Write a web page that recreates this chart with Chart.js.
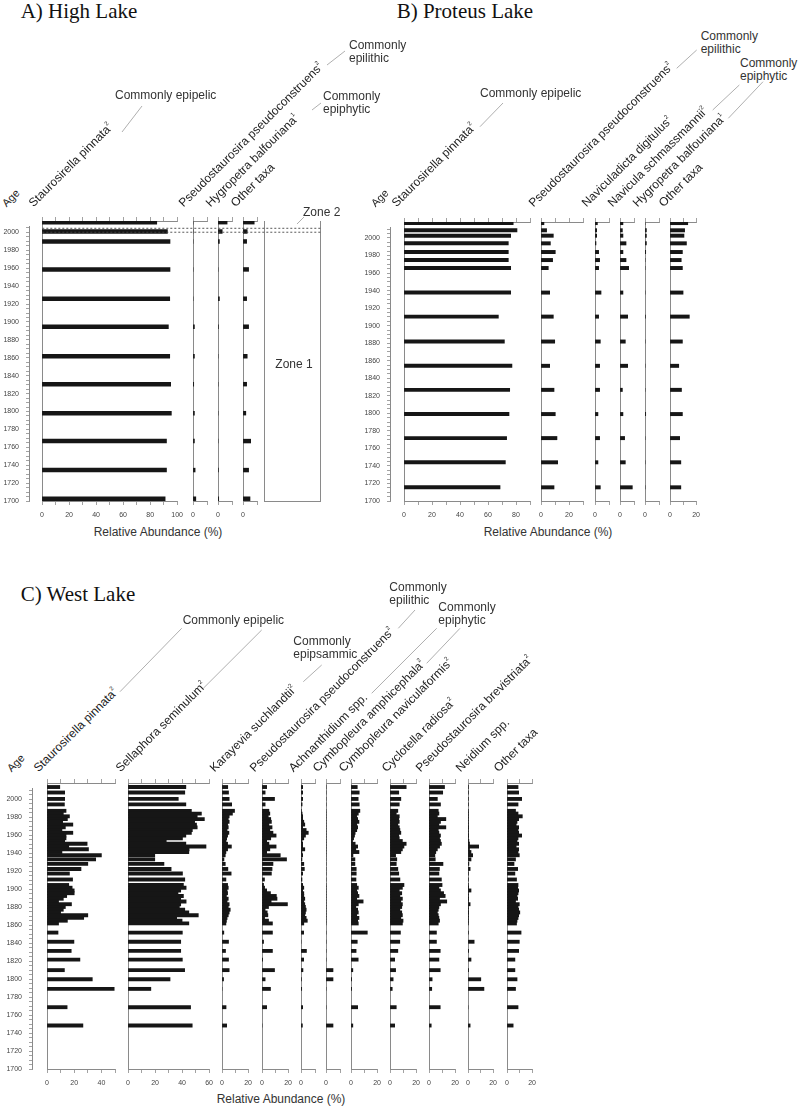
<!DOCTYPE html>
<html>
<head>
<meta charset="utf-8">
<title>Diatom stratigraphy - High, Proteus and West Lake</title>
<script src="https://cdn.jsdelivr.net/npm/chart.js@4.4.1/dist/chart.umd.min.js"></script>
<style>
  html, body { margin: 0; padding: 0; background: #fff; }
  body { position: relative; width: 800px; height: 1109px; overflow: hidden;
         font-family: "Liberation Sans", Arial, sans-serif; color: #222; }
  canvas { position: absolute; }
  .title { position: absolute; font-family: "Liberation Serif", "Times New Roman", serif;
           font-size: 21px; line-height: 21px; white-space: nowrap; color: #111; }
  .txt { position: absolute; font-size: 12px; line-height: 13px; white-space: nowrap; color: #333; }
  .mid { transform: translateX(-50%); }
  .rot { position: absolute; font-size: 12px; line-height: 12px; height: 12px; white-space: nowrap;
         color: #222; transform-origin: 0 100%; transform: rotate(-45deg); }
  .rot sup { font-size: 6px; vertical-align: 6px; line-height: 0; }
  svg { position: absolute; left: 0; top: 0; }
</style>
</head>
<body>
<script>
// ---------- data ----------
const AGE_MIN = 1700;

// A) High Lake
const agesA = [2005.7, 1995.5, 1984.6, 1953.9, 1921.8, 1891.1, 1858.7, 1828.1, 1796.3, 1765.7, 1733.9, 1702.5];
const aStaurosirella = [84.9, 92.8, 94.7, 94.7, 94.5, 93.5, 94.5, 95.2, 95.7, 92.1, 92.1, 91.1];
const aPseudoconstruens = [0, 0, 0, 0, 0, 1, 1, 0.5, 1, 1, 1.5, 2];
const aHygropetra = [6.5, 3, 1, 0, 1, 0.3, 0, 0, 0, 0, 0.3, 0.5];
const aOther = [8, 3, 2.6, 4, 2.6, 4, 3, 2.6, 2, 5.5, 4, 5];
const zone2Ages = [2000.6, 2005.0];

// B) Proteus Lake
const agesB = [2011.1, 2003, 1997, 1988.4, 1978.7, 1969.7, 1960.8, 1933.3, 1906.4, 1878.5, 1851.3, 1824.4, 1797.3, 1770.4, 1743.3, 1715.3];
const bStaurosirella = [78, 80.7, 76.2, 74.5, 74.5, 74.5, 76.2, 76.2, 67.4, 71.7, 77.1, 75.5, 75, 73.3, 72.4, 68.6];
const bPseudoconstruens = [2.1, 4, 8.8, 6.7, 10.2, 8.3, 5.2, 6.2, 8.8, 9.8, 6.2, 9.3, 10.2, 11.4, 11.9, 9.3];
const bNaviculadicta = [1.7, 1.2, 1.2, 0.7, 2.6, 3.3, 2.6, 4.3, 2.6, 3.8, 3.3, 3.3, 2.1, 3.3, 2.1, 3.8];
const bNavicula = [2.1, 1.7, 2.1, 4.3, 2.1, 4.3, 6.2, 2.1, 5.5, 3.8, 5.5, 1.7, 2.1, 3.3, 3.8, 8.8];
const bHygropetra = [0, 1, 1, 1, 0.5, 0, 0, 0, 0.3, 0, 0, 0, 0.5, 0, 0, 0];
const bOther = [13.6, 11.2, 10.7, 12.6, 9.5, 8.6, 9.5, 10, 14.8, 9.5, 6.7, 8.8, 9.5, 7.4, 8.3, 8.3];

// C) West Lake
const agesC = [2008, 2002, 1995, 1989,
  1982, 1979, 1976, 1973, 1970, 1967, 1964, 1961, 1958, 1955, 1952, 1949, 1946, 1943, 1940, 1937,
  1933.5, 1929, 1924, 1918.5, 1913.5, 1907,
  1901, 1898, 1895, 1892, 1889, 1886, 1883, 1880, 1877, 1874, 1871, 1868, 1865, 1862, 1859,
  1849, 1839, 1829, 1819.5, 1808, 1798, 1787.5, 1767.5, 1747.5];
const cStaurosirella = [9.4, 13, 13, 12.8,
  14, 12, 16.5, 15, 11.5, 19, 13.5, 11, 19, 14, 14, 13, 29.5, 16, 30.5, 11,
  40, 35.8, 30, 25, 16.5, 18.8,
  16, 18.5, 20, 20, 14.5, 12, 8.5, 18, 13.5, 12, 10, 30, 27, 15, 8.5,
  8.1, 19.8, 17.8, 24.2, 12.8, 33.3, 49.4, 14.8, 26.4];
const cSellaphora = [42.8, 42, 37.2, 42.8,
  46.9, 54.3, 51.2, 56.5, 49.3, 50.7, 51.2, 47.6, 46.9, 42.8, 40.3, 28.3, 42.8, 57.7, 45.2, 45,
  19.8, 19.8, 26.6, 31.9, 40.3, 42,
  41, 43, 39, 37, 41, 39, 43, 39, 38, 42, 45, 52, 36, 40, 45,
  40.2, 39, 39, 40.2, 41.9, 31.1, 16.9, 46.3, 47.5];
const cKarayevia = [4.4, 5, 5.5, 7.4,
  9.6, 8, 5.5, 4.8, 5.5, 4.3, 4.8, 3.9, 5.3, 4.3, 3.6, 3.1, 4.3, 7.2, 4.3, 3,
  2.5, 1.5, 2.5, 4.5, 7, 3,
  4.3, 4.8, 3.9, 4.3, 3.4, 4.8, 3.9, 5.5, 4.8, 6.3, 5.5, 4.8, 3.9, 3.4, 3,
  1.4, 5, 2.7, 5, 5.5, 1.2, 0, 3.1, 3.6];
const cPseudoconstruens = [3.6, 2.4, 9.6, 2.4,
  5.3, 6, 4.8, 6.7, 7.2, 5.3, 7.7, 6, 8.4, 10.8, 6.7, 3.6, 5.3, 10.8, 6, 3.6,
  14, 18.8, 8.4, 7.7, 7.2, 1.9,
  1.2, 2, 3.6, 6.5, 11, 11.5, 7, 19.5, 5, 2.4, 4, 4.5, 2, 5, 8,
  8, 1.2, 8, 0.5, 9.6, 2.4, 6.5, 3.6, 0];
const cAchnanthidium = [1.2, 1.2, 1.2, 0.8,
  0.3, 0.8, 1.2, 1.2, 2, 2.7, 1.2, 3.7, 5.2, 3.2, 2, 0.8, 1.2, 1.2, 2.7, 0.7,
  1.2, 0.7, 2, 2.4, 1.2, 0.7,
  1.2, 2, 1.2, 2, 2, 2.7, 2, 2.7, 3.2, 3.7, 3.2, 2.7, 3.7, 4.5, 2,
  1.9, 0, 3.9, 1.9, 1.4, 0.3, 0.5, 1.2, 1];
const cAmphicephala = [0, 0, 0, 0,
  0, 0, 0, 0, 0, 0, 0, 0, 0, 0, 0, 0, 0, 0, 0, 0,
  0, 0, 0, 0, 0, 0,
  0, 0, 0, 0, 0, 0, 0, 0, 0, 0, 0, 0, 0, 0, 0,
  0, 0, 0, 0, 5, 5, 0, 0, 5];
const cNaviculaformis = [4.8, 6.3, 5.5, 6.3,
  6.8, 5.6, 4.4, 5.1, 6.1, 4.4, 5.1, 4.4, 3.2, 2.7, 2, 1.2, 3.2, 5.1, 3.7, 6.1,
  1.5, 3, 3, 4, 4, 3.8,
  4.4, 5.6, 4.4, 5.1, 6.1, 4.4, 9.3, 5.6, 3.7, 5.1, 5.6, 4.4, 6.1, 5.1, 5.6,
  12.5, 4.8, 3.9, 5.5, 1.4, 0.5, 0.5, 5.1, 1.4];
const cCyclotella = [12.4, 6.7, 8.3, 7.1,
  6, 4.8, 7.1, 6.7, 7.1, 6, 7.1, 7.6, 8.3, 6.7, 7.1, 9.5, 12.4, 10.7, 9.5, 8.3,
  4.3, 5.2, 4.8, 6, 6.7, 7.6,
  10.7, 9.5, 7.1, 9, 7.6, 9.5, 8.3, 9.5, 9, 7.6, 9, 9.5, 8.3, 10, 9.5,
  8, 7.5, 6, 3.6, 4.3, 2.4, 1.7, 4.8, 3.6];
const cBrevistriata = [11.9, 10.5, 6.4, 8.8,
  7.1, 7.6, 6.4, 12.9, 8.8, 7.6, 12.9, 7.1, 7.6, 8.8, 8.1, 8.8, 9.5, 8.1, 6.4, 5.2,
  4.5, 4.8, 10.7, 8, 7.6, 9.5,
  10, 7.6, 8.8, 11.2, 12.4, 8.1, 13.6, 8.8, 7.6, 7.1, 6.4, 7.1, 7.6, 8.1, 7.1,
  5.7, 5.7, 8.6, 7.6, 8.6, 2.4, 2.1, 8.6, 1.7];
const cNeidium = [0.3, 0.3, 0.3, 0.3,
  0.3, 0.3, 0.3, 0.3, 0.3, 0.3, 0.5, 0.3, 0.3, 0.5, 0.3, 0.7, 1.2, 8.5, 1.2, 2.4,
  3.7, 2.4, 0.7, 1.7, 0.3, 0.3,
  0.3, 0.5, 2.4, 0.3, 0.3, 0.5, 0.3, 1.7, 0.3, 0.3, 0.5, 0.3, 0.3, 0.3, 0.3,
  0.3, 4.9, 0.5, 2.4, 0.5, 10.2, 12.7, 0, 1.7];
const cOther = [8.8, 9.3, 11.7, 8.8,
  6.8, 8.8, 12.2, 9.3, 8, 7.3, 9.3, 8.8, 9.3, 11.7, 8.8, 8, 9.3, 7.3, 9.3, 8.8,
  9.8, 6.8, 5.6, 8.5, 6.3, 7.6,
  8.8, 8.5, 9.3, 8.8, 8, 8.5, 6.8, 9.8, 8.8, 9.3, 10.2, 9.3, 8.8, 8, 7.6,
  11.2, 9.8, 9.3, 6.3, 6.3, 8, 6.8, 8.8, 4.9];

// ---------- layout (page px) ----------
const GREY = '#8a8a8a';
const INK = '#161616';
const TICK_FONT = { family: 'Liberation Sans', size: 7 };
const PAD_X = 8, PAD_T = 2, TOP_AX = 4, BOT_AX = 20, PAD_B = 2;

Chart.defaults.font.family = 'Liberation Sans';

const panelA = { ages: agesA, bottom: 501.3, pxPerYr: 0.9136, yMax: 2007, ageX: 29.3, bar: 3.8 };
const panelB = { ages: agesB, bottom: 501, pxPerYr: 0.8946, yMax: 2012.3, ageX: 390, bar: 3.3 };
const panelC = { ages: agesC, bottom: 1068.7, pxPerYr: 0.9154, yMax: 2012.4, ageX: 32.3, bar: 3.2 };

const colsA = [
  { values: aStaurosirella, max: 100, zero: 42.3, width: 139.4 },
  { values: aPseudoconstruens, max: 10, zero: 192.7, width: 13.9 },
  { values: aHygropetra, max: 10, zero: 217.7, width: 13.9 },
  { values: aOther, max: 10, zero: 242.7, width: 13.9 },
];
const colsB = [
  { values: bStaurosirella, max: 90, zero: 404, width: 125.6 },
  { values: bPseudoconstruens, max: 30, zero: 541.3, width: 41.9 },
  { values: bNaviculadicta, max: 10, zero: 595, width: 14 },
  { values: bNavicula, max: 10, zero: 620, width: 14 },
  { values: bHygropetra, max: 10, zero: 645.3, width: 14 },
  { values: bOther, max: 20, zero: 670.3, width: 27.9 },
];
const colsC = [
  { values: cStaurosirella, max: 50, zero: 46.7, width: 67.5 },
  { values: cSellaphora, max: 60, zero: 127.7, width: 83 },
  { values: cKarayevia, max: 20, zero: 222.3, width: 27.7 },
  { values: cPseudoconstruens, max: 20, zero: 261.7, width: 27.7 },
  { values: cAchnanthidium, max: 10, zero: 300.7, width: 13.8 },
  { values: cAmphicephala, max: 10, zero: 325.7, width: 13.8 },
  { values: cNaviculaformis, max: 20, zero: 350.7, width: 27.7 },
  { values: cCyclotella, max: 20, zero: 390, width: 28 },
  { values: cBrevistriata, max: 20, zero: 429.3, width: 28 },
  { values: cNeidium, max: 20, zero: 468.3, width: 27.4 },
  { values: cOther, max: 20, zero: 507.3, width: 27.4 },
];

// ---------- helpers ----------
function addCanvas(left, top, w, h) {
  const c = document.createElement('canvas');
  c.width = w; c.height = h;
  c.style.left = left + 'px'; c.style.top = top + 'px';
  c.style.width = w + 'px'; c.style.height = h + 'px';
  document.body.appendChild(c);
  return c;
}

function plotHeight(p) { return Math.round((p.yMax - AGE_MIN) * p.pxPerYr); }
function canvasTop(p) { return p.bottom - plotHeight(p) - PAD_T - TOP_AX; }
function canvasHeight(p) { return plotHeight(p) + PAD_T + TOP_AX + BOT_AX + PAD_B; }

const labelEvery20 = v => (v % 20 === 0 ? String(v) : '');

function valueAxis(max, position) {
  const bottom = position === 'bottom';
  return {
    type: 'linear', position, min: 0, max, offset: false,
    grid: { display: true, drawOnChartArea: false, drawTicks: true, tickLength: 4, color: GREY, lineWidth: 0.8 },
    border: { display: true, color: GREY, width: 1 },
    ticks: { display: bottom, stepSize: 10, autoSkip: false, maxRotation: 0, padding: 6,
             font: TICK_FONT, color: '#444', callback: labelEvery20 },
    afterFit: s => { s.height = bottom ? BOT_AX : TOP_AX; }
  };
}

function hiddenAxis(position) {
  return {
    type: 'linear', position, min: 0, max: 1, offset: false,
    ticks: { display: false }, grid: { display: false }, border: { display: false },
    afterFit: s => { s.height = position === 'bottom' ? BOT_AX : TOP_AX; }
  };
}

function lineAxis(p, position) {
  return {
    type: 'linear', position, min: AGE_MIN, max: p.yMax, offset: false,
    grid: { display: false, drawTicks: false, offset: false },
    ticks: { display: false },
    border: { display: true, color: GREY, width: 1 },
    afterFit: s => { s.width = 0; }
  };
}

const baseOptions = (padding) => ({
  indexAxis: 'y', responsive: false, animation: false, events: [],
  layout: { padding },
  plugins: { legend: { display: false }, tooltip: { enabled: false } },
});

function ageChart(p) {
  const LW = 30;
  const canvas = addCanvas(p.ageX - LW - 2, canvasTop(p), LW + 8, canvasHeight(p));
  return new Chart(canvas, {
    type: 'bar',
    data: { datasets: [] },
    options: Object.assign(baseOptions({ left: 2, right: 0, top: PAD_T, bottom: PAD_B }), {
      scales: {
        x: hiddenAxis('bottom'),
        x2: hiddenAxis('top'),
        y: {
          type: 'linear', position: 'left', min: AGE_MIN, max: p.yMax, offset: false,
          grid: { display: true, drawOnChartArea: false, tickLength: 3, color: GREY, lineWidth: 0.8, offset: false },
          border: { display: true, color: GREY, width: 1 },
          ticks: { stepSize: 5, autoSkip: false, includeBounds: false, padding: 7,
                   font: TICK_FONT, color: '#444', callback: labelEvery20 },
          afterFit: s => { s.width = LW; }
        }
      }
    })
  });
}

function columnChart(p, col) {
  const w = Math.round(col.width);
  const canvas = addCanvas(col.zero - PAD_X, canvasTop(p), w + 2 * PAD_X, canvasHeight(p));
  return new Chart(canvas, {
    type: 'bar',
    data: {
      datasets: [{
        data: p.ages.map((a, i) => ({ x: col.values[i], y: a })),
        backgroundColor: INK, borderWidth: 0, barThickness: p.bar
      }]
    },
    options: Object.assign(baseOptions({ left: PAD_X, right: PAD_X, top: PAD_T, bottom: PAD_B }), {
      scales: { x: valueAxis(col.max, 'bottom'), x2: valueAxis(col.max, 'top'), y: lineAxis(p, 'left') }
    })
  });
}

function zoneChart(p, left, right) {
  const w = Math.round(right - left);
  const canvas = addCanvas(left - PAD_X, canvasTop(p), w + 2 * PAD_X, canvasHeight(p));
  const xAx = hiddenAxis('bottom');
  xAx.border = { display: true, color: GREY, width: 1 };
  return new Chart(canvas, {
    type: 'bar',
    data: { datasets: [] },
    options: Object.assign(baseOptions({ left: PAD_X, right: PAD_X, top: PAD_T, bottom: PAD_B }), {
      scales: { x: xAx, x2: hiddenAxis('top'), y: lineAxis(p, 'left'), y2: lineAxis(p, 'right') }
    })
  });
}

// ---------- charts ----------
const ageA = ageChart(panelA);
const chartsA = colsA.map(c => columnChart(panelA, c));
const zoneA = zoneChart(panelA, 264.3, 320.7);

ageChart(panelB);
colsB.forEach(c => columnChart(panelB, c));

ageChart(panelC);
colsC.forEach(c => columnChart(panelC, c));

// ---------- text ----------
function addText(cls, html, left, top) {
  const d = document.createElement('div');
  d.className = cls;
  d.innerHTML = html;
  d.style.left = left + 'px';
  d.style.top = top + 'px';
  document.body.appendChild(d);
  return d;
}

addText('title', 'A) High Lake', 20.7, 1.4);
addText('title', 'B) Proteus Lake', 396.7, 1.4);
addText('title', 'C) West Lake', 20.7, 584);

const S2 = '<sup>2</sup>', S1 = '<sup>1</sup>';
const taxonLabels = [
  ['Age', 8, 209], ['Staurosirella pinnata' + S2, 35, 209],
  ['Pseudostaurosira pseudoconstruens' + S2, 185, 209],
  ['Hygropetra balfouriana' + S1, 211.5, 209], ['Other taxa', 237, 209],

  ['Age', 377, 209], ['Staurosirella pinnata' + S2, 398.3, 209],
  ['Pseudostaurosira pseudoconstruens' + S2, 535, 209],
  ['Naviculadicta digitulus' + S2, 588.3, 209], ['Navicula schmassmannii' + S2, 614, 209],
  ['Hygropetra balfouriana' + S1, 639.3, 209], ['Other taxa', 665, 209],

  ['Age', 13, 774], ['Staurosirella pinnata' + S2, 40, 774],
  ['Sellaphora seminulum' + S2, 121.7, 774], ['Karayevia suchlandtii' + S2, 216, 774],
  ['Pseudostaurosira pseudoconstruens' + S2, 256, 774], ['Achnanthidium spp.', 295, 774],
  ['Cymbopleura amphicephala' + S2, 319.3, 774], ['Cymbopleura naviculaformis' + S2, 345, 774],
  ['Cyclotella radiosa' + S2, 388.3, 774], ['Pseudostaurosira brevistriata' + S2, 421.7, 774],
  ['Neidium spp.', 461.7, 774], ['Other taxa', 500, 774],
];
taxonLabels.forEach(([html, x, y]) => {
  const d = addText('rot', html, x, y - 12);
  if (html === 'Age') d.style.fontSize = '11px';
});

const groupLabels = [
  ['Commonly epipelic', 115, 88.5], ['Commonly<br>epilithic', 349, 39], ['Commonly<br>epiphytic', 323, 90],
  ['Commonly epipelic', 480, 87], ['Commonly<br>epilithic', 700.7, 30], ['Commonly<br>epiphytic', 740, 57],
  ['Commonly epipelic', 182.7, 613.5], ['Commonly<br>epipsammic', 293.3, 635],
  ['Commonly<br>epilithic', 389.3, 581], ['Commonly<br>epiphytic', 438.3, 601],
];
groupLabels.forEach(([html, x, y]) => addText('txt', html, x, y));

[[158, 526], [548, 526], [281, 1093]].forEach(([x, y]) =>
  addText('txt mid', 'Relative Abundance (%)', x, y));
addText('txt mid', 'Zone 1', 294, 358);
addText('txt', 'Zone 2', 303, 205.5);

// ---------- leader lines and zone 2 box ----------
const leaders = [
  [122, 132, 142, 106], [327, 65, 345, 51], [312, 110, 321, 103],
  [480, 126.7, 503, 103], [676.7, 68.3, 696.7, 50], [712.7, 110, 739.3, 85], [728.3, 118.3, 763, 81.7],
  [120, 691.7, 181.7, 628.3], [203.3, 688.3, 261.7, 630], [303.3, 681.7, 321.7, 665],
  [398.3, 628.3, 415, 610], [371.7, 693.3, 436.7, 628.3], [426.7, 663.3, 460, 628.3],
  [297, 224, 304, 217],
];

const NS = 'http://www.w3.org/2000/svg';
const svg = document.createElementNS(NS, 'svg');
svg.setAttribute('width', 800);
svg.setAttribute('height', 1109);
function svgLine(x1, y1, x2, y2, stroke, dash) {
  const l = document.createElementNS(NS, 'line');
  l.setAttribute('x1', x1); l.setAttribute('y1', y1);
  l.setAttribute('x2', x2); l.setAttribute('y2', y2);
  l.setAttribute('stroke', stroke);
  l.setAttribute('stroke-width', dash ? 0.9 : 0.8);
  if (dash) l.setAttribute('stroke-dasharray', dash);
  svg.appendChild(l);
}
leaders.forEach(([x1, y1, x2, y2]) => svgLine(x1, y1, x2, y2, '#9a9a9a'));

// zone 2 boundaries placed through the age scale of panel A
const ageTop = parseFloat(ageA.canvas.style.top);
const zx1 = parseFloat(chartsA[0].canvas.style.left) + chartsA[0].chartArea.left;
const zx2 = parseFloat(zoneA.canvas.style.left) + zoneA.chartArea.right;
zone2Ages.forEach(a => {
  const y = ageTop + ageA.scales.y.getPixelForValue(a);
  svgLine(zx1, y, zx2, y, '#444', '2,2');
});
document.body.appendChild(svg);
</script>
</body>
</html>
